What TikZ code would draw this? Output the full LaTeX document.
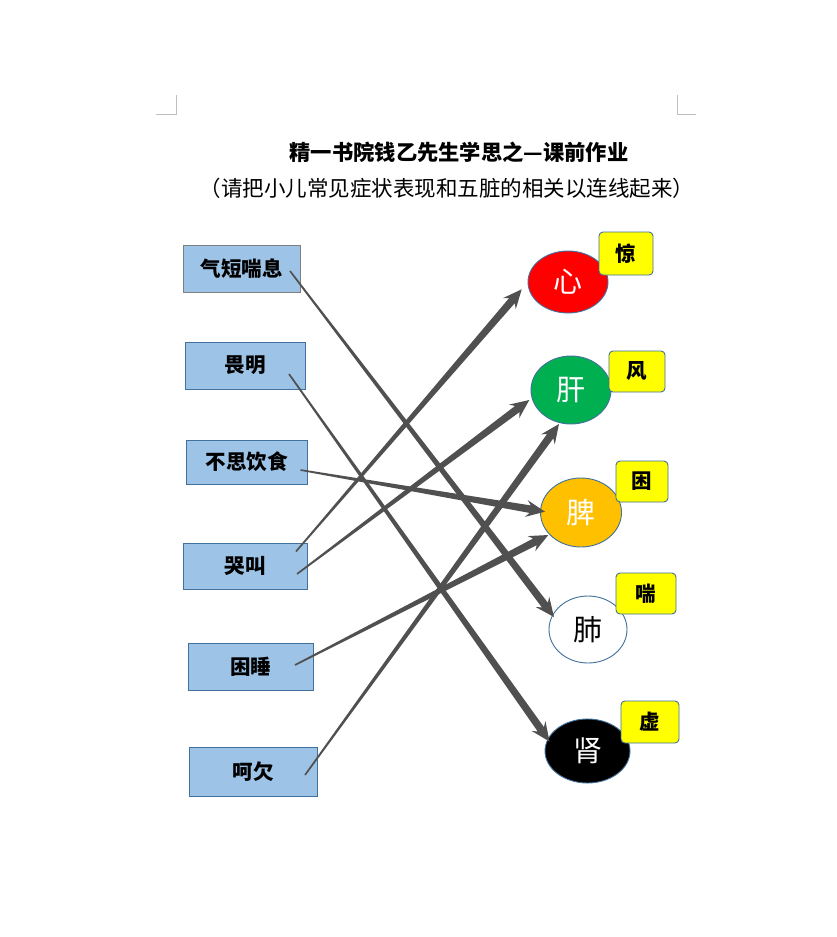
\documentclass[tikz,border=0pt]{standalone}
\usepackage{fontspec}
\setmainfont{Noto Sans CJK SC}
\usetikzlibrary{calc,shapes.geometric}
\definecolor{boxblue}{HTML}{9DC3E6}
\definecolor{edgeblue}{HTML}{41719C}
\definecolor{edgegray}{HTML}{7F7F7F}
\definecolor{arrowgray}{HTML}{505050}
\definecolor{markgray}{HTML}{BFBFBF}
\definecolor{organred}{HTML}{FF0000}
\definecolor{organgreen}{HTML}{00B050}
\definecolor{organorange}{HTML}{FFC000}
\definecolor{tagyellow}{HTML}{FFFF00}
\newcommand{\taperarrow}[2]{%
  \path ($(#2)!15pt!(#1)$) coordinate (tmpS) ($(#2)!19pt!(#1)$) coordinate (tmpW);
  \fill[arrowgray] ($(#1)!0.8pt!90:(#2)$) -- ($(tmpS)!3.8pt!90:(#2)$) -- ($(tmpW)!8.5pt!90:(#2)$) -- (#2)
    -- ($(tmpW)!8.5pt!-90:(#2)$) -- ($(tmpS)!3.8pt!-90:(#2)$) -- ($(#1)!0.8pt!-90:(#2)$) -- cycle;}
\tikzset{
  symbox/.style={draw=edgeblue, fill=boxblue, line width=0.9pt, inner sep=0pt,
    font=\fontsize{20.5pt}{24pt}\selectfont\bfseries},
  organ/.style={ellipse, draw=edgeblue, line width=0.9pt, inner sep=0pt,
    font=\fontsize{29pt}{32pt}\selectfont},
  tag/.style={draw=edgeblue, fill=tagyellow, rounded corners=4pt, line width=0.9pt, inner sep=0pt,
    font=\fontsize{20.5pt}{24pt}\selectfont\bfseries},
  cornermark/.style={draw=markgray, line width=0.8pt}
}
\begin{document}
\begin{tikzpicture}[x=1pt,y=-1pt]
\useasboundingbox (0,0) rectangle (836,937);
\fill[white] (0,0) rectangle (836,937);
% corner marks
\draw[cornermark] (156,114) -- (176,114) -- (176,95);
\draw[cornermark] (696,114) -- (677,114) -- (677,95);
% titles
\node[font=\fontsize{21.3pt}{25pt}\selectfont\bfseries] (title) at (459,152) {精一书院钱乙先生学思之—课前作业};
\node[font=\fontsize{21.5pt}{25pt}\selectfont] (subtitle) at (447,188) {（请把小儿常见症状表现和五脏的相关以连线起来）};
% symptom boxes
\node[symbox, draw=edgegray, minimum width=117pt, minimum height=47pt] (qiduan) at (241.5,268.5) {气短喘息};
\node[symbox, minimum width=120pt, minimum height=47pt] (weiming) at (245,365.5) {畏明};
\node[symbox, minimum width=121pt, minimum height=44pt] (busi) at (246.5,462) {不思饮食};
\node[symbox, minimum width=124pt, minimum height=46pt] (kujiao) at (245,566) {哭叫};
\node[symbox, minimum width=125pt, minimum height=47pt] (kunshui) at (250.5,666.5) {困睡};
\node[symbox, minimum width=128pt, minimum height=49pt] (heqian) at (253,771.5) {呵欠};
% organs
\node[organ, fill=organred, text=white, minimum width=80pt, minimum height=62pt] (xin) at (568,282) {心};
\node[organ, fill=organgreen, text=white, minimum width=80pt, minimum height=68pt] (gan) at (571,390) {肝};
\node[organ, fill=organorange, text=white, minimum width=81pt, minimum height=69pt] (pi) at (581,512.5) {脾};
\node[organ, fill=white, text=black, minimum width=78pt, minimum height=67pt] (fei) at (588,629.5) {肺};
\node[organ, fill=black, text=white, minimum width=85pt, minimum height=64pt] (shen) at (587.5,751) {肾};
% tags
\node[tag, minimum width=54pt, minimum height=43pt] (jing) at (626,253.5) {惊};
\node[tag, minimum width=56pt, minimum height=41pt] (feng) at (637,371.5) {风};
\node[tag, minimum width=52pt, minimum height=41pt] (kun) at (642,481.5) {困};
\node[tag, minimum width=60pt, minimum height=41pt] (chuan) at (646,593.5) {喘};
\node[tag, minimum width=58pt, minimum height=42pt] (xu) at (650,722) {虚};
% connector ends
\coordinate (s1) at (290,271);
\coordinate (s2) at (289,374);
\coordinate (s3) at (300.5,470);
\coordinate (s4) at (296,551.5);
\coordinate (s5) at (297,574);
\coordinate (s6) at (295,665);
\coordinate (s7) at (305,775);
\coordinate (e1) at (554,617);
\coordinate (e2) at (549.5,741.5);
\coordinate (e3) at (545,511.7);
\coordinate (e4) at (521.7,289.3);
\coordinate (e5) at (529.3,400);
\coordinate (e6) at (548.3,535);
\coordinate (e7) at (559,424);
\taperarrow{s1}{e1}
\taperarrow{s2}{e2}
\taperarrow{s3}{e3}
\taperarrow{s4}{e4}
\taperarrow{s5}{e5}
\taperarrow{s6}{e6}
\taperarrow{s7}{e7}
\end{tikzpicture}
\end{document}
